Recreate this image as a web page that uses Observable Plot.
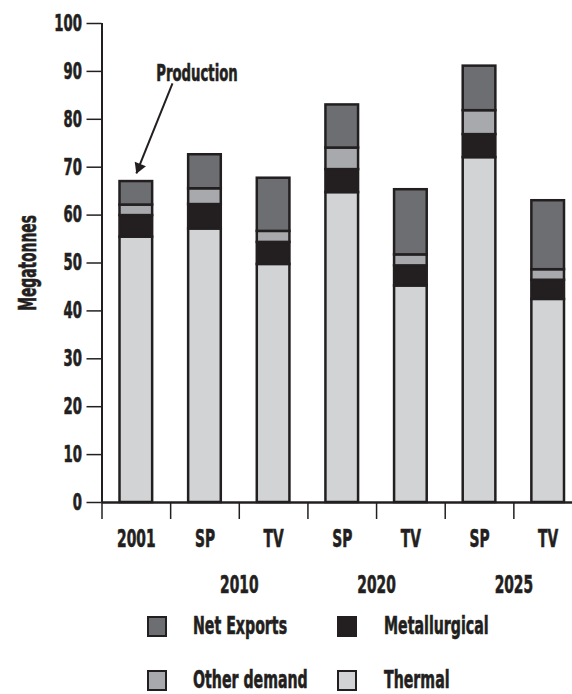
<!DOCTYPE html>
<html><head><meta charset="utf-8">
<script src="https://cdn.jsdelivr.net/npm/d3@7"></script>
<script src="https://cdn.jsdelivr.net/npm/@observablehq/plot@0.6"></script>
<style>
html,body{margin:0;padding:0;background:#fff;}
#wrap{position:relative;width:572px;height:694px;overflow:hidden;font-family:"DejaVu Sans Condensed","DejaVu Sans",sans-serif;font-weight:bold;color:#231f20;}
#wrap svg{position:absolute;left:0;top:0;}
.sw{position:absolute;width:20px;height:21px;box-sizing:border-box;border:2.5px solid #231f20;}
.lt{position:absolute;font-size:25px;line-height:20px;white-space:nowrap;transform:scaleX(0.63);transform-origin:0 50%;-webkit-text-stroke:0.6px #231f20;}
</style></head><body><div id="wrap"></div>
<script>
const categories = ["2001","SP","TV","SP","TV","SP","TV"];
const groups = ["2010","2020","2025"];
const series = ["Thermal","Metallurgical","Other demand","Net Exports"];
const thermal       = [55.4, 57.1, 49.7, 64.7, 45.2, 72.0, 42.4];
const metallurgical = [ 4.5,  5.1,  4.6,  4.8,  4.2,  4.8,  4.0];
const otherDemand   = [ 2.2,  3.3,  2.3,  4.5,  2.3,  5.0,  2.2];
const netExports    = [ 4.9,  7.1, 11.1,  9.0, 13.6,  9.3, 14.4];
const colors = ["#d1d3d4","#231f20","#a7a9ac","#6d6e71"];
const yTicks = [0,10,20,30,40,50,60,70,80,90,100];
const yLabel = "Megatonnes";
const annotationText = ["Production"];
const annotationTextPos = {x: 1.384, y: 88.1};
const annotationArrow = {x1: 1.027, y1: 87.5, x2: 0.5, y2: 68.7};
const annotationHead = {x: 0.539, y: 70.0};

const values = [thermal, metallurgical, otherDemand, netExports];
const rows = [];
categories.forEach((c, i) => {
  let acc = 0;
  series.forEach((s, k) => {
    const v = values[k][i];
    rows.push({i, x1: i, x2: i + 1, series: s, y1: acc, y2: acc + v});
    acc += v;
  });
});

const ink = "#231f20";
const plot = Plot.plot({
  width: 572,
  height: 605,
  marginTop: 23,
  marginBottom: 103,
  marginLeft: 101.5,
  marginRight: 0,
  style: {fontFamily: '"DejaVu Sans Condensed","DejaVu Sans",sans-serif', fontWeight: "bold", color: ink, background: "#fff", overflow: "visible"},
  x: {domain: [0, 7], range: [101.5, 582]},
  y: {domain: [0, 100], range: [502, 23]},
  color: {domain: series, range: colors},
  marks: [
    Plot.rect(rows, {x1: "x1", x2: "x2", y1: "y1", y2: "y2", fill: "series", stroke: ink, strokeWidth: 2.5, insetLeft: 18, insetRight: 18}),
    Plot.axisY(yTicks, {tickSize: 15, tickPadding: 5, fontSize: 23, label: null, stroke: ink, strokeWidth: 1.5}),
    Plot.axisX(d3.range(0, categories.length + 1), {tickSize: 17, tickFormat: () => "", label: null, stroke: ink, strokeWidth: 1.5}),
    Plot.axisX(categories.map((c, i) => i + 0.5), {tickSize: 0, tickPadding: 27, fontSize: 24, label: null, tickFormat: d => categories[Math.floor(d)]}),
    Plot.axisX(groups.map((g, k) => 2 * k + 2), {tickSize: 0, tickPadding: 73, fontSize: 24, label: null, tickFormat: d => groups[d / 2 - 1]}),
    Plot.ruleY([0], {stroke: ink, strokeWidth: 2.5}),
    Plot.ruleX([0], {y1: 0, y2: 100, stroke: ink, strokeWidth: 2}),
    Plot.text([yLabel], {frameAnchor: "left", rotate: -90, dx: -74, textAnchor: "middle", fontSize: 24, fill: ink}),
    Plot.text(annotationText, {x: () => annotationTextPos.x, y: () => annotationTextPos.y, text: d => d, lineAnchor: "bottom", fontSize: 23, fill: ink}),
    Plot.link([annotationArrow], {x1: "x1", y1: "y1", x2: "x2", y2: "y2", stroke: ink, strokeWidth: 2}),
    Plot.dot([annotationHead], {x: "x", y: "y", symbol: "triangle", r: 4.5, rotate: 202.4, fill: ink, stroke: "none"})
  ]
});
const wrap = document.getElementById("wrap");
wrap.appendChild(plot);

// condense glyphs horizontally and embolden to mimic the heavy narrow typeface
plot.querySelectorAll("text").forEach(t => {
  const L = t.getComputedTextLength();
  if (L > 0) {
    t.setAttribute("textLength", (L * 0.64).toFixed(2));
    t.setAttribute("lengthAdjust", "spacingAndGlyphs");
    t.setAttribute("stroke", ink);
    t.setAttribute("stroke-width", "0.6");
    t.setAttribute("paint-order", "stroke");
  }
});

const legendOrder = ["Net Exports","Metallurgical","Other demand","Thermal"];
const legendPos = [[146.7, 615.7, 193], [337.3, 615.7, 384], [146.7, 669.5, 193], [337.3, 669.5, 384]];
legendOrder.forEach((s, k) => {
  const [sx, sy, tx] = legendPos[k];
  const sw = document.createElement("div");
  sw.className = "sw";
  sw.style.left = sx + "px";
  sw.style.top = sy + "px";
  sw.style.background = colors[series.indexOf(s)];
  wrap.appendChild(sw);
  const t = document.createElement("div");
  t.className = "lt";
  t.textContent = s;
  t.style.left = tx + "px";
  t.style.top = (sy + 0.5) + "px";
  wrap.appendChild(t);
});
</script></body></html>
